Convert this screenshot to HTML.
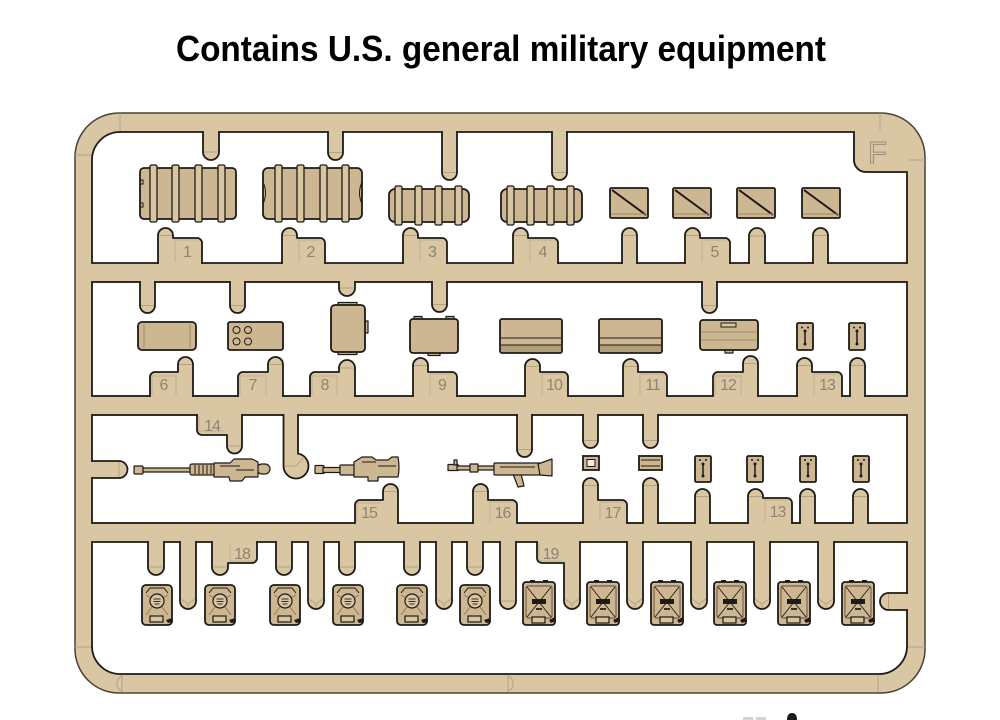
<!DOCTYPE html>
<html><head><meta charset="utf-8"><style>
html,body{margin:0;padding:0;background:#fff;}
svg{display:block;}
.s{fill:#d9c7a4;stroke:#1f1a15;stroke-width:1.8;stroke-linejoin:round}
.c{fill:#fff;stroke:#1f1a15;stroke-width:1.8}
.p{fill:#ccb792;stroke:#1f1a15;stroke-width:1.8}
.r{fill:#d8c5a1;stroke:#1f1a15;stroke-width:1.3}
.g{fill:#ccb792;stroke:#1f1a15;stroke-width:1.2;stroke-linejoin:round}
.l{fill:#908371;font-family:"Liberation Sans",sans-serif;font-size:16px;text-anchor:middle}
.sm{stroke:#b3a182;stroke-width:1;fill:none}
.tb{stroke:#b9a98b;stroke-width:0.8;fill:none}
</style></head><body>
<svg width="1000" height="720" viewBox="0 0 1000 720" xmlns="http://www.w3.org/2000/svg">
<defs>
<g id="can18">
<rect class="p" x="0" y="0" width="30" height="40" rx="4"/>
<path d="M4 8 L8 3 H22 L26 8" fill="none" stroke="#1f1a15" stroke-width="1"/>
<path d="M4 30 L10 22 M26 30 L20 22 M4 10 L9 13 M26 10 L21 13" stroke="#8f7c5c" stroke-width="1" fill="none"/>
<circle cx="15" cy="16" r="7" fill="#d8c5a1" stroke="#1f1a15" stroke-width="1.2"/>
<path d="M11.5 14 H18.5 M11.5 16.5 H18.5 M12.5 19 H17.5" stroke="#3a3126" stroke-width="1"/>
<rect x="8" y="31" width="13" height="6" fill="#d8c5a1" stroke="#1f1a15" stroke-width="1.2"/>
<path d="M24 35 L30 33 L31 37 L26 38 Z" fill="#1f1a15"/>
</g>
<g id="can19">
<rect x="7" y="-2" width="5" height="4" fill="#1f1a15"/>
<rect x="20" y="-2" width="5" height="4" fill="#1f1a15"/>
<rect class="p" x="0" y="0" width="32" height="43" rx="3"/>
<rect x="3" y="4" width="26" height="32" rx="2" fill="none" stroke="#5a4c3a" stroke-width="0.9"/>
<path d="M4 5 L28 35 M28 5 L4 35" stroke="#2a231b" stroke-width="1" fill="none"/>
<rect x="9" y="17" width="14" height="5" fill="#1f1a15"/>
<rect x="13" y="26" width="6" height="2" fill="#3a3126"/>
<rect x="9" y="35" width="13" height="6" fill="#d8c5a1" stroke="#1f1a15" stroke-width="1.2"/>
<path d="M26 38 L32 35 L33 39 L28 41 Z" fill="#1f1a15"/>
</g>
</defs>

<!-- Title -->
<text x="501" y="61" text-anchor="middle" font-family="Liberation Sans, sans-serif" font-weight="bold" font-size="36" textLength="650" lengthAdjust="spacingAndGlyphs" fill="#000">Contains U.S. general military equipment</text>

<!-- Frame -->
<rect x="75" y="113" width="850" height="580" rx="44" fill="#d9c7a4" stroke="#4a4136" stroke-width="1.5"/>
<!-- frame seams -->
<path class="sm" d="M120 113 V132 M75 155 H92 M880 113 V131 M907 160 H925 M75 647 H92 M907 647 H925 M878 675 V692 M122 675 V692 M122 676 A8 8 0 0 0 122 691 M508 675 V692 M508 676 A8 8 0 0 1 508 691"/>

<!-- Cells -->
<path class="c" d="M92 160 A28 28 0 0 1 120 132 H907 V263 H92 Z"/>
<rect class="c" x="92" y="282" width="815" height="114"/>
<rect class="c" x="92" y="415" width="815" height="108"/>
<path class="c" d="M92 542 H907 V646 A28 28 0 0 1 879 674 H120 A28 28 0 0 1 92 646 Z"/>

<!-- F tab -->
<path d="M853 130 V160 A12 12 0 0 0 865 173 H909 V130 Z" fill="#d9c7a4"/>
<path d="M854 131 V160 A12 12 0 0 0 866 172 H907.9" fill="none" stroke="#1f1a15" stroke-width="1.8"/>
<text x="868" y="163" font-family="Liberation Sans, sans-serif" font-size="31" fill="#d9c7a4" stroke="#9a8d78" stroke-width="1">F</text>

<!-- Row 1 stubs -->
<path class="s" d="M203 131 V152 A8 8 0 0 0 219 152 V131"/>
<path class="s" d="M328 131 V152.5 A7.5 7.5 0 0 0 343 152.5 V131"/>
<path class="s" d="M442 131 V172.5 A7.5 7.5 0 0 0 457 172.5 V131"/>
<path class="s" d="M552 131 V172.5 A7.5 7.5 0 0 0 567 172.5 V131"/>
<path class="sm" d="M204 152 H218 M329 152.5 H342 M443 172.5 H456 M553 172.5 H566"/>

<path class="s" d="M158 264 V235.5 A7.5 7.5 0 0 1 173 235.5 V238 H197 A5 5 0 0 1 202 243 V264"/>
<path class="s" d="M282 264 V235.5 A7.5 7.5 0 0 1 297 235.5 V238 H320 A5 5 0 0 1 325 243 V264"/>
<path class="s" d="M403 264 V235.5 A7.5 7.5 0 0 1 418 235.5 V238 H442 A5 5 0 0 1 447 243 V264"/>
<path class="s" d="M513 264 V235.5 A7.5 7.5 0 0 1 528 235.5 V238 H553 A5 5 0 0 1 558 243 V264"/>
<path class="s" d="M622 264 V235.5 A7.5 7.5 0 0 1 637 235.5 V264"/>
<path class="s" d="M685 264 V235.5 A7.5 7.5 0 0 1 700 235.5 V238 H725 A5 5 0 0 1 730 243 V264"/>
<path class="s" d="M749 264 V236 A8 8 0 0 1 765 236 V264"/>
<path class="s" d="M813 264 V235.5 A7.5 7.5 0 0 1 828 235.5 V264"/>
<path class="sm" d="M159 235.5 H172 M283 235.5 H296 M404 235.5 H417 M514 235.5 H527 M623 235.5 H636 M686 235.5 H699 M750 236 H764 M814 235.5 H827"/>
<path class="tb" d="M175 262 V240 H197 M299 262 V240 H320 M420 262 V240 H442 M530 262 V240 H553 M702 262 V240 H725"/>
<text class="l" x="187.5" y="257">1</text>
<text class="l" x="311" y="257">2</text>
<text class="l" x="432.5" y="257">3</text>
<text class="l" x="543" y="257">4</text>
<text class="l" x="715" y="257">5</text>

<!-- Row 1 parts -->
<rect class="p" x="140" y="168" width="96" height="51" rx="4"/>
<rect class="r" x="150" y="165" width="7" height="57" rx="1.5"/>
<rect class="r" x="172" y="165" width="7" height="57" rx="1.5"/>
<rect class="r" x="195" y="165" width="7" height="57" rx="1.5"/>
<rect class="r" x="218" y="165" width="7" height="57" rx="1.5"/>
<path d="M140 180 h3 v4 h-3 M140 203 h3 v4 h-3" stroke="#1f1a15" stroke-width="1" fill="none"/>

<rect class="p" x="263" y="168" width="99" height="51" rx="5"/>
<rect class="r" x="275" y="165" width="7" height="57" rx="1.5"/>
<rect class="r" x="297" y="165" width="7" height="57" rx="1.5"/>
<rect class="r" x="320" y="165" width="7" height="57" rx="1.5"/>
<rect class="r" x="342" y="165" width="7" height="57" rx="1.5"/>
<path d="M263 182 Q268 193 263 204 M362 182 Q357 193 362 204" stroke="#1f1a15" stroke-width="1" fill="none"/>

<rect class="p" x="389" y="189" width="80" height="33" rx="6"/>
<rect class="r" x="395" y="186" width="7" height="39" rx="1.5"/>
<rect class="r" x="415" y="186" width="7" height="39" rx="1.5"/>
<rect class="r" x="435" y="186" width="7" height="39" rx="1.5"/>
<rect class="r" x="455" y="186" width="7" height="39" rx="1.5"/>

<rect class="p" x="501" y="189" width="81" height="33" rx="6"/>
<rect class="r" x="507" y="186" width="7" height="39" rx="1.5"/>
<rect class="r" x="527" y="186" width="7" height="39" rx="1.5"/>
<rect class="r" x="547" y="186" width="7" height="39" rx="1.5"/>
<rect class="r" x="567" y="186" width="7" height="39" rx="1.5"/>

<g>
<rect class="p" x="610" y="188" width="38" height="30" rx="1.5"/>
<rect class="p" x="673" y="188" width="38" height="30" rx="1.5"/>
<rect class="p" x="737" y="188" width="38" height="30" rx="1.5"/>
<rect class="p" x="802" y="188" width="38" height="30" rx="1.5"/>
<path d="M612 190 L646 215 M675 190 L709 215 M739 190 L773 215 M804 190 L838 215" stroke="#1f1a15" stroke-width="2"/>
<path d="M611 214 H647 M674 214 H710 M738 214 H774 M803 214 H839" stroke="#9d8b6a" stroke-width="1"/>
</g>

<!-- Row 2 stubs -->
<path class="s" d="M140 281 V305.5 A7.5 7.5 0 0 0 155 305.5 V281"/>
<path class="s" d="M230 281 V305.5 A7.5 7.5 0 0 0 245 305.5 V281"/>
<path class="s" d="M339 281 V288 A8 8 0 0 0 355 288 V281"/>
<path class="s" d="M432 281 V304.5 A7.5 7.5 0 0 0 447 304.5 V281"/>
<path class="s" d="M702 281 V305.5 A7.5 7.5 0 0 0 717 305.5 V281"/>
<path class="sm" d="M141 305.5 H154 M231 305.5 H244 M340 288 H354 M433 304.5 H446 M703 305.5 H716"/>

<path class="s" d="M150 397 V377 A5 5 0 0 1 155 372 H178 V364.5 A7.5 7.5 0 0 1 193 364.5 V397"/>
<path class="s" d="M238 397 V377 A5 5 0 0 1 243 372 H268 V364.5 A7.5 7.5 0 0 1 283 364.5 V397"/>
<path class="s" d="M310 397 V377 A5 5 0 0 1 315 372 H339 V368 A8 8 0 0 1 355 368 V397"/>
<path class="s" d="M413 397 V365.5 A7.5 7.5 0 0 1 428 365.5 V372 H452 A5 5 0 0 1 457 377 V397"/>
<path class="s" d="M525 397 V366.5 A7.5 7.5 0 0 1 540 366.5 V372 H563 A5 5 0 0 1 568 377 V397"/>
<path class="s" d="M623 397 V366.5 A7.5 7.5 0 0 1 638 366.5 V372 H662 A5 5 0 0 1 667 377 V397"/>
<path class="s" d="M713 397 V377 A5 5 0 0 1 718 372 H743 V363.5 A7.5 7.5 0 0 1 758 363.5 V397"/>
<path class="s" d="M797 397 V365.5 A7.5 7.5 0 0 1 812 365.5 V372 H837 A5 5 0 0 1 842 377 V397"/>
<path class="s" d="M850 397 V365.5 A7.5 7.5 0 0 1 865 365.5 V397"/>
<path class="sm" d="M179 364.5 H192 M269 364.5 H282 M340 368 H354 M414 365.5 H427 M526 366.5 H539 M624 366.5 H637 M744 363.5 H757 M798 365.5 H811 M851 365.5 H864"/>
<path class="tb" d="M152 395 V376 H176 V395 M240 395 V376 H266 V395 M312 395 V376 H337 V395 M430 395 V374 H455 M542 395 V374 H566 M640 395 V374 H665 M715 395 V376 H741 V395 M814 395 V374 H840"/>
<text class="l" x="164" y="390">6</text>
<text class="l" x="253" y="390">7</text>
<text class="l" x="325" y="390">8</text>
<text class="l" x="442.5" y="390">9</text>
<text class="l" x="554" y="390" letter-spacing="-1">10</text>
<text class="l" x="652.5" y="390" letter-spacing="-1">11</text>
<text class="l" x="728" y="390" letter-spacing="-1">12</text>
<text class="l" x="827" y="390" letter-spacing="-1">13</text>

<!-- Row 2 parts -->
<rect class="p" x="138" y="322" width="58" height="28" rx="4"/>
<path d="M144 324 V348 M190 324 V348" stroke="#9d8b6a" stroke-width="1"/>
<rect class="p" x="228" y="322" width="55" height="28" rx="2"/>
<g fill="none" stroke="#1f1a15" stroke-width="1">
<circle cx="236.5" cy="330" r="3.5"/><circle cx="248" cy="330" r="3.5"/>
<circle cx="236.5" cy="341.5" r="3.5"/><circle cx="248" cy="341.5" r="3.5"/>
</g>
<rect class="g" x="338" y="302.5" width="19" height="4"/>
<rect class="g" x="338" y="350.5" width="19" height="4"/>
<rect class="g" x="364" y="321" width="4" height="12"/>
<rect class="p" x="331" y="305" width="34" height="47" rx="4"/>
<rect class="g" x="414" y="316.5" width="8" height="4"/>
<rect class="g" x="446" y="316.5" width="8" height="4"/>
<rect class="g" x="428" y="351.5" width="12" height="4"/>
<rect class="p" x="410" y="319" width="48" height="34" rx="3"/>

<rect class="p" x="500" y="319" width="62" height="34" rx="2"/>
<rect x="501" y="345" width="60" height="7" fill="#b29d78"/>
<path d="M501 338 H561 M501 345 H561" stroke="#1f1a15" stroke-width="1"/>
<rect class="p" x="599" y="319" width="63" height="34" rx="2"/>
<rect x="600" y="345" width="61" height="7" fill="#b29d78"/>
<path d="M600 338 H661 M600 345 H661" stroke="#1f1a15" stroke-width="1"/>

<rect class="g" x="725" y="348" width="8" height="5"/>
<rect class="p" x="700" y="320" width="58" height="30" rx="3"/>
<rect x="721" y="323" width="15" height="4" fill="#d8c5a1" stroke="#1f1a15" stroke-width="1"/>
<path d="M702 332 H756 M702 340 H756" stroke="#9d8b6a" stroke-width="1"/>

<g>
<rect class="p" x="797" y="323" width="16" height="27" rx="1.5"/>
<rect class="p" x="849" y="323" width="16" height="27" rx="1.5"/>
<path d="M805 331 V344 M857 331 V344" stroke="#1f1a15" stroke-width="1.5"/>
<g fill="#1f1a15"><circle cx="802" cy="327.5" r="1"/><circle cx="808" cy="327.5" r="1"/><circle cx="805" cy="331" r="1.5"/><circle cx="805" cy="344" r="1.5"/>
<circle cx="854" cy="327.5" r="1"/><circle cx="860" cy="327.5" r="1"/><circle cx="857" cy="331" r="1.5"/><circle cx="857" cy="344" r="1.5"/></g>
</g>

<!-- Row 3 stubs -->
<path class="s" d="M197 414 V430 A5 5 0 0 0 202 435 H227 V446 A7.5 7.5 0 0 0 242 446 V414"/>
<path class="s" d="M283.5 414 V466 A12.5 12.5 0 1 0 298 453.66 V414"/>
<path class="sm" d="M285 466 L296 466 L304 457"/>
<path class="s" d="M517 414 V449.5 A7.5 7.5 0 0 0 532 449.5 V414"/>
<path class="s" d="M583 414 V440.5 A7.5 7.5 0 0 0 598 440.5 V414"/>
<path class="s" d="M643 414 V440.5 A7.5 7.5 0 0 0 658 440.5 V414"/>
<path class="s" d="M91 461 H119 A8.5 8.5 0 0 1 119 478 H91"/>
<path class="sm" d="M228 446 H241 M518 449.5 H531 M584 440.5 H597 M644 440.5 H657 M119 462 V477"/>

<path class="s" d="M355 524 V505 A5 5 0 0 1 360 500 H383 V491.5 A7.5 7.5 0 0 1 398 491.5 V524"/>
<path class="s" d="M473 524 V491.5 A7.5 7.5 0 0 1 488 491.5 V500 H512 A5 5 0 0 1 517 505 V524"/>
<path class="s" d="M583 524 V485.5 A7.5 7.5 0 0 1 598 485.5 V500 H622 A5 5 0 0 1 627 505 V524"/>
<path class="s" d="M643 524 V485.5 A7.5 7.5 0 0 1 658 485.5 V524"/>
<path class="s" d="M695 524 V496.5 A7.5 7.5 0 0 1 710 496.5 V524"/>
<path class="s" d="M748 524 V496.5 A7.5 7.5 0 0 1 763 496.5 V498 H787 A5 5 0 0 1 792 503 V524"/>
<path class="s" d="M800 524 V496.5 A7.5 7.5 0 0 1 815 496.5 V524"/>
<path class="s" d="M853 524 V496.5 A7.5 7.5 0 0 1 868 496.5 V524"/>
<path class="sm" d="M384 491.5 H397 M474 491.5 H487 M584 485.5 H597 M644 485.5 H657 M696 496.5 H709 M749 496.5 H762 M801 496.5 H814 M854 496.5 H867"/>
<path class="tb" d="M199 416 V431 H225 M357 522 V503 H381 M490 522 V502 H514 M600 522 V502 H624 M765 522 V500 H789"/>
<text class="l" x="212" y="431" letter-spacing="-1">14</text>
<text class="l" x="369" y="518" letter-spacing="-1">15</text>
<text class="l" x="502.5" y="518" letter-spacing="-1">16</text>
<text class="l" x="612.5" y="518" letter-spacing="-1">17</text>
<text class="l" x="777.5" y="517" letter-spacing="-1">13</text>

<!-- Guns -->
<g>
<rect class="g" x="134" y="466" width="9" height="8" rx="1"/>
<rect class="g" x="143" y="468" width="49" height="4"/>
<rect class="g" x="190" y="464" width="26" height="11" rx="2"/>
<path d="M195 465 V474 M199 465 V474 M203 465 V474 M207 465 V474 M211 465 V474" stroke="#1f1a15" stroke-width="1"/>
<rect class="g" x="257" y="464" width="13" height="10" rx="5"/>
<path class="g" d="M214 463 H230 L234 459 H252 L258 462 V477 H245 L242 481 H230 L229 477 H214 Z"/>
<path d="M220 466 H240 M236 470 H254" stroke="#1f1a15" stroke-width="1"/>
</g>
<g>
<rect class="g" x="315" y="465.5" width="9" height="8" rx="1"/>
<rect class="g" x="323" y="467.5" width="20" height="5"/>
<rect class="g" x="340" y="465" width="16" height="10" rx="1"/>
<path class="g" d="M354 462 L362 457 H372 L376 460 H388 L392 457 H398 Q400 468 398 477 H378 V481 H368 V477 H354 Z"/>
<path d="M362 462 H376 M378 466 H396" stroke="#1f1a15" stroke-width="1"/>
</g>
<g>
<rect class="g" x="448" y="464.5" width="10" height="6"/>
<rect class="g" x="454" y="460" width="3" height="5"/>
<rect class="g" x="457" y="466" width="40" height="4"/>
<rect class="g" x="470" y="464" width="8" height="8"/>
<path class="g" d="M513 474 L521 474 L524 486 L518 487 Z"/>
<rect class="g" x="494" y="463" width="46" height="12" rx="1"/>
<path class="g" d="M538 464 L552 459 V476 L540 475 Z"/>
<path d="M500 467 H535" stroke="#1f1a15" stroke-width="1"/>
</g>

<!-- Row 3 small parts -->
<rect class="p" x="583" y="456" width="16" height="14" stroke-width="2"/>
<rect x="587" y="459.5" width="8" height="7" fill="#f3eee4" stroke="#1f1a15" stroke-width="1"/>
<rect class="p" x="639" y="456" width="23" height="14" stroke-width="2"/>
<path d="M641 460 H660 M641 466 H660" stroke="#1f1a15" stroke-width="1"/>
<g>
<rect class="p" x="695" y="456" width="16" height="26" rx="1.5"/>
<rect class="p" x="747" y="456" width="16" height="26" rx="1.5"/>
<rect class="p" x="800" y="456" width="16" height="26" rx="1.5"/>
<rect class="p" x="853" y="456" width="16" height="26" rx="1.5"/>
<path d="M703 464 V476 M755 464 V476 M808 464 V476 M861 464 V476" stroke="#1f1a15" stroke-width="1.5"/>
<g fill="#1f1a15">
<circle cx="700" cy="460" r="1"/><circle cx="706" cy="460" r="1"/><circle cx="703" cy="464" r="1.5"/><circle cx="703" cy="476" r="1.5"/>
<circle cx="752" cy="460" r="1"/><circle cx="758" cy="460" r="1"/><circle cx="755" cy="464" r="1.5"/><circle cx="755" cy="476" r="1.5"/>
<circle cx="805" cy="460" r="1"/><circle cx="811" cy="460" r="1"/><circle cx="808" cy="464" r="1.5"/><circle cx="808" cy="476" r="1.5"/>
<circle cx="858" cy="460" r="1"/><circle cx="864" cy="460" r="1"/><circle cx="861" cy="464" r="1.5"/><circle cx="861" cy="476" r="1.5"/>
</g>
</g>

<!-- Row 4 stubs -->
<path class="s" d="M148 541 V567 A8 8 0 0 0 164 567 V541"/>
<path class="s" d="M212 541 V567 A8 8 0 0 0 228 567 V563 H252 A5 5 0 0 0 257 558 V541"/>
<path class="s" d="M276 541 V567 A8 8 0 0 0 292 567 V541"/>
<path class="s" d="M339 541 V567 A8 8 0 0 0 355 567 V541"/>
<path class="s" d="M404 541 V567 A8 8 0 0 0 420 567 V541"/>
<path class="s" d="M467 541 V567 A8 8 0 0 0 483 567 V541"/>
<path class="s" d="M180 541 V601 A8 8 0 0 0 196 601 V541"/>
<path class="s" d="M308 541 V601 A8 8 0 0 0 324 601 V541"/>
<path class="s" d="M436 541 V601 A8 8 0 0 0 452 601 V541"/>
<path class="s" d="M500 541 V601 A8 8 0 0 0 516 601 V541"/>
<path class="s" d="M537 541 V558 A5 5 0 0 0 542 563 H564 V601 A8 8 0 0 0 580 601 V541"/>
<path class="s" d="M627 541 V601 A8 8 0 0 0 643 601 V541"/>
<path class="s" d="M691 541 V601 A8 8 0 0 0 707 601 V541"/>
<path class="s" d="M754 541 V601 A8 8 0 0 0 770 601 V541"/>
<path class="s" d="M818 541 V601 A8 8 0 0 0 834 601 V541"/>
<path class="s" d="M908 593 H888.5 A8.5 8.5 0 0 0 888.5 610 H908"/>
<path class="sm" d="M149 567 H163 M213 567 H227 M277 567 H291 M340 567 H354 M405 567 H419 M468 567 H482 M501 601 H515 M888.5 594 V609"/>
<path class="sm" d="M181 599 L188 604 L195 599 M188 604 V608 M309 599 L316 604 L323 599 M316 604 V608 M437 599 L444 604 L451 599 M444 604 V608 M565 599 L572 604 L579 599 M572 604 V608 M628 599 L635 604 L642 599 M635 604 V608 M692 599 L699 604 L706 599 M699 604 V608 M755 599 L762 604 L769 599 M762 604 V608 M819 599 L826 604 L833 599 M826 604 V608"/>
<path class="tb" d="M230 543 V561 H255 M539 543 V557 Q539 561 543 561 H562"/>
<text class="l" x="242" y="559" letter-spacing="-1">18</text>
<text class="l" x="550.5" y="559" letter-spacing="-1">19</text>

<!-- Jerry cans -->
<use href="#can18" x="142" y="585"/>
<use href="#can18" x="205" y="585"/>
<use href="#can18" x="270" y="585"/>
<use href="#can18" x="333" y="585"/>
<use href="#can18" x="397" y="585"/>
<use href="#can18" x="460" y="585"/>
<use href="#can19" x="523" y="582"/>
<use href="#can19" x="587" y="582"/>
<use href="#can19" x="651" y="582"/>
<use href="#can19" x="714" y="582"/>
<use href="#can19" x="778" y="582"/>
<use href="#can19" x="842" y="582"/>

<!-- cut-off marks at bottom -->
<rect x="743" y="717" width="10" height="3" fill="#d4d4d4"/>
<rect x="756" y="717" width="10" height="3" fill="#d4d4d4"/>
<path d="M787 720 Q787 713 792 713 Q797 713 797 720 Z" fill="#1a1a1a"/>
</svg>
</body></html>
